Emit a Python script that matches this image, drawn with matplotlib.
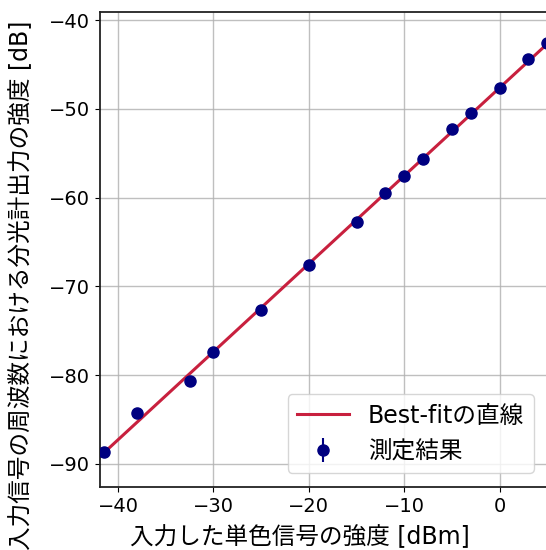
import numpy as np
import matplotlib
matplotlib.use('Agg')
import matplotlib.pyplot as plt

plt.rcParams['font.family'] = ['DejaVu Sans', 'Noto Sans CJK JP']

# 入力した単色信号の強度 [dBm]
input_dbm = [-41.5, -38, -32.5, -30, -25, -20, -15, -12, -10, -8, -5, -3, 0, 3, 5]
# 分光計出力の強度 [dB]
output_db = [-88.6, -84.3, -80.7, -77.4, -72.7, -67.6, -62.8, -59.5, -57.6,
             -55.6, -52.3, -50.5, -47.7, -44.4, -42.6]
output_err = [0.2, 0.2, 0.2, 0.2, 0.2, 0.5, 0.5, 0.2, 0.2, 0.2, 0.2, 0.2,
              0.2, 0.2, 0.2]

LINE_C = '#c8203e'
DOT_C = '#000080'

slope, intercept = np.polyfit(input_dbm, output_db, 1)
x_fit = np.linspace(-45, 10, 50)

fig = plt.figure(figsize=(5.46, 5.5), dpi=100)
ax = fig.add_axes([0.183, 0.1145, 0.8205, 0.8636])

ax.plot(x_fit, slope * x_fit + intercept, color=LINE_C, linewidth=2.2,
        label='Best-fitの直線', zorder=2)
ax.errorbar(input_dbm, output_db, yerr=output_err, fmt='o', color=DOT_C,
            markersize=8, elinewidth=1.5, capsize=0, label='測定結果', zorder=3)

ax.set_xlim(-41.9, 5.05)
ax.set_ylim(-92.6, -39.1)
ax.set_xticks([-40, -30, -20, -10, 0])
ax.set_yticks([-90, -80, -70, -60, -50, -40])
ax.tick_params(labelsize=14)
ax.grid(True, color='#b0b0b0', linewidth=1, alpha=0.8)
for s in ax.spines.values():
    s.set_linewidth(1.3)
    s.set_color('#222222')

ax.set_xlabel('入力した単色信号の強度 [dBm]', fontsize=17)
ax.set_ylabel('入力信号の周波数における分光計出力の強度 [dB]', fontsize=17)
ax.xaxis.set_label_coords(0.446, -0.08)
ax.yaxis.set_label_coords(-0.15, 0.425)
ax.legend(loc='lower right', fontsize=17, handlelength=2.2,
          borderaxespad=0.6)

plt.savefig('out.png', dpi=100)
plt.close()
